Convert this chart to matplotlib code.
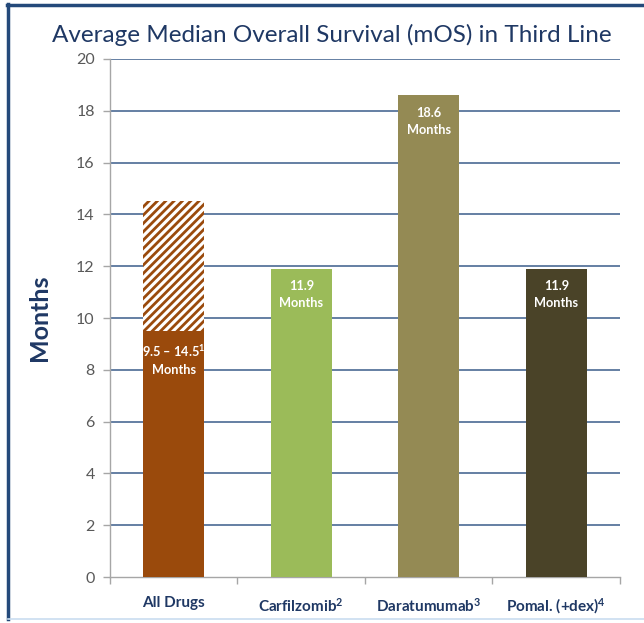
import matplotlib
matplotlib.use("Agg")
import matplotlib.pyplot as plt
from matplotlib.lines import Line2D

# Chart data
categories = ["All Drugs", "Carfilzomib$^{2}$", "Daratumumab$^{3}$", "Pomal. (+dex)$^{4}$"]
mos_low = [9.5, 11.9, 18.6, 11.9]       # solid bar heights (months)
all_drugs_high = 14.5                    # upper end of the All Drugs range
bar_labels = ["9.5 – 14.5$^{1}$\nMonths", "11.9\nMonths", "18.6\nMonths", "11.9\nMonths"]
bar_colors = ["#9A4A0C", "#9BBB59", "#948A54", "#4A4328"]
yticks = [0, 2, 4, 6, 8, 10, 12, 14, 16, 18, 20]

navy = "#1F3864"
grid_col = "#4A6A94"
axis_gray = "#A6A6A6"
fonts = ["Lato", "DejaVu Sans"]

plt.rcParams["font.family"] = fonts
plt.rcParams["mathtext.fontset"] = "custom"
plt.rcParams["mathtext.rm"] = "Lato:bold"
plt.rcParams["mathtext.it"] = "Lato:bold"
plt.rcParams["mathtext.bf"] = "Lato:bold"
plt.rcParams["mathtext.default"] = "rm"
plt.rcParams["hatch.linewidth"] = 2.0

fig = plt.figure(figsize=(6.44, 6.23), dpi=100)
ax = fig.add_axes([0.1708, 0.0738, 0.7919, 0.8315])

x = list(range(len(categories)))
width = 0.48

# hatched range on top of the All Drugs bar
ax.bar(x[0], all_drugs_high - mos_low[0], bottom=mos_low[0], width=width,
       facecolor="white", edgecolor=bar_colors[0], hatch="////", linewidth=0, zorder=3)
ax.bar(x, mos_low, width=width, color=bar_colors, linewidth=0, zorder=3)

for xi, h, lab in zip(x, mos_low, bar_labels):
    ax.text(xi, h - 0.45, lab, ha="center", va="top", color="white",
            fontsize=9.2, fontweight="bold", linespacing=1.5, zorder=4)

ax.set_xlim(-0.5, len(categories) - 0.5)
ax.set_ylim(0, 20)
ax.set_yticks(yticks)
ax.set_yticklabels([str(t) for t in yticks], fontsize=11.5, color="#595959")
for t in yticks[1:]:
    ax.axhline(t, color=grid_col, linewidth=1.2, zorder=1)

ax.set_xticks(x)
ax.set_xticklabels(categories, fontsize=11, fontweight="bold", color=navy)
ax.set_xticks([i - 0.5 for i in range(len(categories) + 1)], minor=True)
ax.tick_params(axis="x", which="major", length=0, pad=14)
ax.tick_params(axis="x", which="minor", length=5, color=axis_gray, width=1)
ax.tick_params(axis="y", length=5, color=axis_gray, width=1, pad=6)

for s in ["top", "right"]:
    ax.spines[s].set_visible(False)
ax.spines["left"].set_color(axis_gray)
ax.spines["bottom"].set_color(axis_gray)
ax.spines["left"].set_linewidth(1)
ax.spines["bottom"].set_linewidth(1)

ax.set_ylabel("Months", fontsize=18, fontweight="bold", color=navy, labelpad=18)

fig.text(0.515, 0.944, "Average Median Overall Survival (mOS) in Third Line",
         ha="center", va="center", fontsize=17.5, color=navy)

# slide frame
frame = "#24497A"
fig.add_artist(Line2D([0.011, 1.0], [0.992, 0.992], color=frame, linewidth=2.5))
fig.add_artist(Line2D([0.012, 0.012], [0.006, 0.993], color=frame, linewidth=2.5))
fig.add_artist(Line2D([0.012, 1.0], [0.006, 0.006], color="#C9DDF0", linewidth=1.2))

fig.savefig("out.png", dpi=100, facecolor="white")
